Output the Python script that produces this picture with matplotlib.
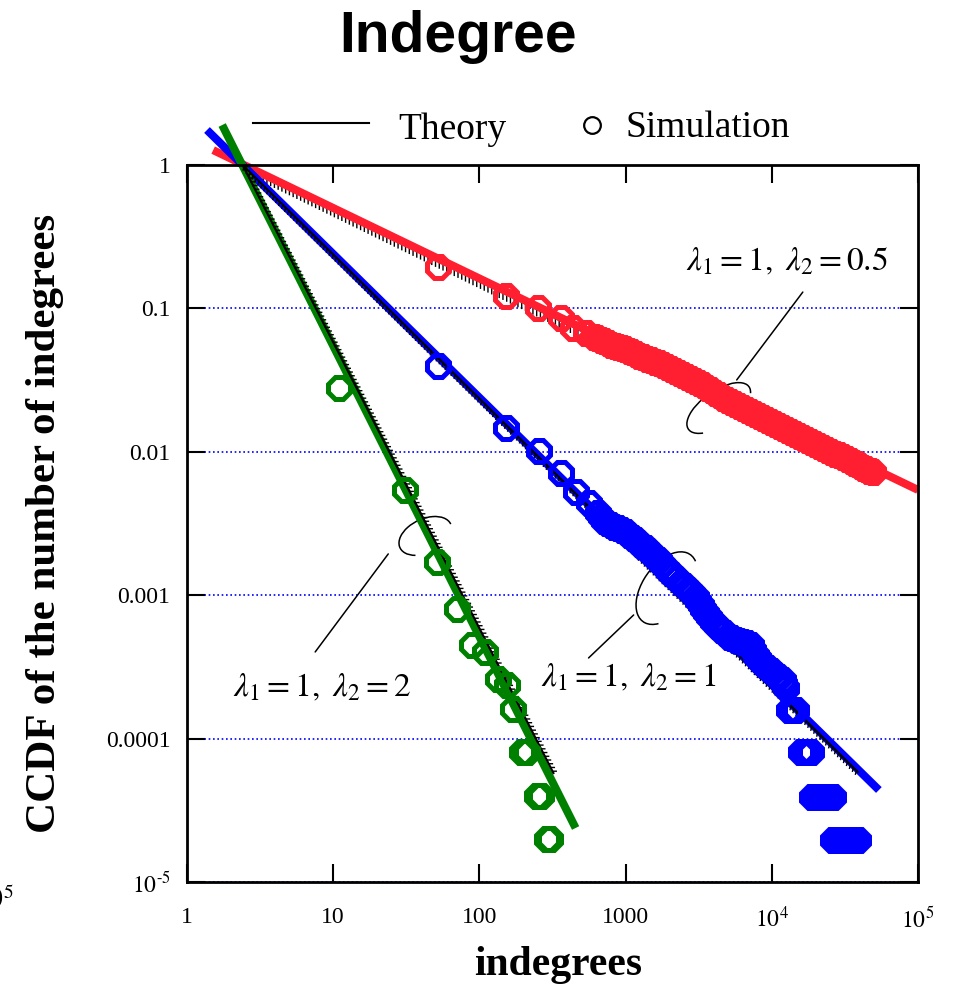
import matplotlib
matplotlib.use("Agg")
import matplotlib.pyplot as plt
import matplotlib.patheffects as pe
from matplotlib.patches import Arc
from matplotlib.lines import Line2D
from matplotlib.transforms import ScaledTranslation
from matplotlib.ticker import NullLocator

plt.rcParams['font.family'] = ['Liberation Serif', 'DejaVu Serif']
plt.rcParams['mathtext.fontset'] = 'stix'

# --- simulation points (CCDF) ---
green_x = [11.0, 31.1, 51.6, 70.7, 89.5, 110, 133, 155, 171, 197, 210, 246, 262, 288, 303]
green_y = [0.0279, 0.00542, 0.00171, 0.000802, 0.00045, 0.000402, 0.00026, 0.000236,
           0.000161, 8e-5, 8e-5, 4e-5, 4e-5, 2e-5, 2e-5]

blue_x = [52.4, 153, 254, 364, 455, 558, 643, 674, 707, 747, 789, 834, 881, 939, 1000, 1057,
          1117, 1171, 1228, 1297, 1371, 1449, 1531, 1605, 1683, 1778, 1879, 1986, 2099, 2236,
          2382, 2537, 2702, 2854, 3015, 3137, 3264, 3395, 3532, 3733, 3945, 4203, 4478, 4767,
          5075, 5362, 5665, 5985, 6324, 6738, 7178, 7464, 7762, 8078, 8407, 8887, 9394,
          10002, 10650, 11253, 11890, 12177, 12470,
          13070, 13710, 14590,
          15800, 17100, 18490,
          18790, 19720, 20990, 21990, 23420, 24550, 26170,
          26170, 27500, 28770, 30370, 32130, 33900, 35890, 37800, 38810]
blue_y = [0.0397, 0.01466, 0.01013, 0.00711, 0.00525, 0.0044, 0.00374, 0.00351, 0.00329,
          0.00319, 0.00309, 0.00301, 0.00294, 0.00285, 0.00276, 0.00263, 0.00251, 0.00241,
          0.00231, 0.00222, 0.00213, 0.00202, 0.00191, 0.00183, 0.00176, 0.00165, 0.00155,
          0.00146, 0.00138, 0.0013, 0.00122, 0.001153, 0.00109, 0.00103, 0.000971, 0.000911,
          0.000854, 0.000801, 0.000752, 0.0007, 0.000651, 0.00061, 0.000572, 0.000541,
          0.000511, 0.000499, 0.000487, 0.000479, 0.000472, 0.000461, 0.00045, 0.000415,
          0.000383, 0.000362, 0.000342, 0.000326, 0.00031, 0.000294, 0.000278, 0.000267,
          0.000256, 0.00024, 0.000225,
          0.000158, 0.000158, 0.000158,
          8.07e-5, 8.07e-5, 8.07e-5,
          3.92e-5, 3.92e-5, 3.92e-5, 3.92e-5, 3.92e-5, 3.92e-5, 3.92e-5,
          1.96e-5, 1.96e-5, 1.96e-5, 1.96e-5, 1.96e-5, 1.96e-5, 1.96e-5, 1.96e-5, 1.96e-5]

red_x = [52.4, 153, 250, 359, 440, 532, 604, 638, 674, 712, 753, 796, 841, 889, 939, 992,
         1049, 1108, 1171, 1237, 1307, 1392, 1483, 1580, 1683, 1793, 1911, 2035, 2168, 2307,
         2455, 2615, 2786, 2968, 3162, 3369, 3589, 3824, 4074, 4335, 4613, 4915, 5236, 5578,
         5943, 6331, 6745, 7186, 7656, 8147, 8670, 9237, 9840, 10484, 11170, 11901, 12680,
         13508, 14390, 15315, 16300, 17360, 18490, 19700, 20990, 22360, 23820, 25375, 27030,
         28770, 30620, 32620, 34750, 36430, 38190, 40040, 41980, 44000, 46130, 47640, 49200]
red_y = [0.1945, 0.122, 0.1007, 0.0857, 0.073, 0.0674, 0.0632, 0.0617, 0.0602, 0.0588,
         0.0574, 0.056, 0.0547, 0.0538, 0.053, 0.0517, 0.0505, 0.0493, 0.0481, 0.0469, 0.0458,
         0.0447, 0.0437, 0.0426, 0.0416, 0.0403, 0.039, 0.0378, 0.0366, 0.0354, 0.0343,
         0.0332, 0.0322, 0.0312, 0.0302, 0.029, 0.0279, 0.0268, 0.0257, 0.0247, 0.0237,
         0.0229, 0.0222, 0.0215, 0.0208, 0.0202, 0.0196, 0.019, 0.0184, 0.0178, 0.0172,
         0.0166, 0.0161, 0.0156, 0.0151, 0.0146, 0.0142, 0.01375, 0.0133, 0.0129, 0.0125,
         0.0121, 0.0117, 0.01135, 0.011, 0.01065, 0.0103, 0.00997, 0.00966, 0.00943, 0.0092,
         0.00891, 0.00863, 0.00842, 0.00822, 0.00796, 0.00771, 0.00753, 0.00735, 0.00729,
         0.00723]

# --- fitted power-law lines (end points) ---
fit_red_x, fit_red_y = [1.51, 1e5], [1.27, 0.00542]
fit_blue_x, fit_blue_y = [1.37, 54000], [1.754, 4.38e-5]
fit_green_x, fit_green_y = [1.74, 455], [1.90, 2.38e-5]

# --- theory lines (end points) ---
th_red_x, th_red_y = [2.4, 20000], [1.0, 0.011]
th_blue_x, th_blue_y = [2.4, 38800], [1.0, 5.85e-5]
th_green_x, th_green_y = [2.4, 321], [1.0, 5.75e-5]

# --- labels ---
x_ticks = [1, 10, 100, 1000, 1e4, 1e5]
x_labels = ['1', '10', '100', '1000', r'$10^4$', r'$10^5$']
y_ticks = [1, 0.1, 0.01, 0.001, 0.0001, 1e-5]
y_labels = ['1', '0.1', '0.01', '0.001', '0.0001', r'$10^{\text{-}5}$']

labels = [r'$\lambda_1 = 1,\ \lambda_2 = 0.5$', r'$\lambda_1 = 1,\ \lambda_2 = 1$',
          r'$\lambda_1 = 1,\ \lambda_2 = 2$']
label_pos = [(12680, 0.211), (1049, 0.000265), (8.41, 0.000225)]
leader_from = [(16300, 0.130), (558, 0.000365), (7.53, 0.000402)]
leader_to = [(5754, 0.0317), (1135, 0.000728), (23.8, 0.00194)]
# brace ellipses: centre, width/height in px, angle, theta1, theta2
arc_center = [(4335, 0.0202), (1910, 0.00112), (42.7, 0.00259)]
arc_size = [(74, 34, 35, -10, 203), (82, 48, 55, -12, 202), (56, 34, 25, 0, 218)]

RED = '#ff1f30'
BLUE = '#0000ff'
GREEN = '#008000'

fig = plt.figure(figsize=(9.58, 9.90), dpi=100)
ax = fig.add_axes([187 / 958, 108 / 990, 731 / 958, 717 / 990])
ax.set_xscale('log')
ax.set_yscale('log')
ax.set_xlim(1, 1e5)
ax.set_ylim(1e-5, 1)

ax.grid(axis='y', color='blue', lw=1.2, ls=(0, (1, 1.6)), zorder=0.5)
ax.set_axisbelow(True)

# fitted thick lines
for fx, fy, c in [(fit_red_x, fit_red_y, RED), (fit_blue_x, fit_blue_y, BLUE),
                  (fit_green_x, fit_green_y, GREEN)]:
    ax.plot(fx, fy, color=c, lw=5.8, solid_capstyle='butt', clip_on=False, zorder=2)

# theory lines
ax.plot(th_red_x, th_red_y, color='k', lw=1.3, zorder=1.9,
        path_effects=[pe.withTickedStroke(angle=-64, spacing=3, length=1.6, linewidth=1)])
ax.plot(th_blue_x, th_blue_y, color='k', lw=1.5, zorder=3,
        path_effects=[pe.withTickedStroke(angle=-60, spacing=3, length=0.9, linewidth=1)])
ax.plot(th_green_x, th_green_y, color='k', lw=1.5, zorder=3,
        path_effects=[pe.withTickedStroke(angle=63, spacing=3, length=0.9, linewidth=1)])

# simulation points
for sx, sy, c in [(red_x, red_y, RED), (blue_x, blue_y, BLUE), (green_x, green_y, GREEN)]:
    ax.plot(sx, sy, ls='none', marker='8', ms=16.5, mfc='none', mec=c, mew=3.6,
            clip_on=False, zorder=4)

# annotations
for txt, pos, p0, p1, cen, (w, h, ang, t1, t2) in zip(labels, label_pos, leader_from,
                                                      leader_to, arc_center, arc_size):
    ax.text(pos[0], pos[1], txt, fontsize=24, ha='center', va='center', zorder=5)
    ax.annotate('', xy=p1, xytext=p0,
                arrowprops=dict(arrowstyle='-', color='k', lw=1.1, shrinkA=0, shrinkB=0))
    tr = fig.dpi_scale_trans + ScaledTranslation(cen[0], cen[1], ax.transData)
    ax.add_patch(Arc((0, 0), w / 100, h / 100, angle=ang, theta1=t1, theta2=t2,
                     transform=tr, color='k', lw=1.1, zorder=1.5))

ax.set_xticks(x_ticks)
ax.set_xticklabels(x_labels)
ax.set_yticks(y_ticks)
ax.set_yticklabels(y_labels)
ax.xaxis.set_minor_locator(NullLocator())
ax.yaxis.set_minor_locator(NullLocator())
ax.tick_params(which='major', direction='in', length=13, width=1.5, top=True, right=True,
               labelsize=17)
ax.tick_params(axis='x', pad=18)
ax.tick_params(axis='y', pad=12)
for sp in ax.spines.values():
    sp.set_linewidth(2)

ax.set_xlabel('indegrees', fontsize=30, fontweight='bold')
ax.xaxis.set_label_coords(0.5075, -0.089)
ax.set_ylabel('CCDF of the number of indegrees', fontsize=31, fontweight='bold')
ax.yaxis.set_label_coords(-0.168, 0.5)

# legend drawn above the frame
fig.add_artist(Line2D([253 / 958, 369 / 958], [1 - 123 / 990] * 2, color='k', lw=1.5,
                      transform=fig.transFigure))
fig.add_artist(Line2D([592 / 958], [1 - 125 / 990], marker='o', ms=12, mfc='none',
                      mec='k', mew=1.6, transform=fig.transFigure))
fig.text(398 / 958, 1 - 139 / 990, 'Theory', fontsize=27, va='baseline')
fig.text(625 / 958, 1 - 137 / 990, 'Simulation', fontsize=27, va='baseline')

fig.text(458 / 958, 1 - 52 / 990, 'Indegree', family=['Liberation Sans', 'DejaVu Sans'],
         fontweight='bold', fontsize=41, ha='center', va='baseline')

# fragment of a neighbouring panel's label at the left edge
fig.text(14 / 958, 1 - 908 / 990, r'$10^5$', fontsize=20, ha='right', va='baseline')

fig.savefig('out.png', dpi=100)
